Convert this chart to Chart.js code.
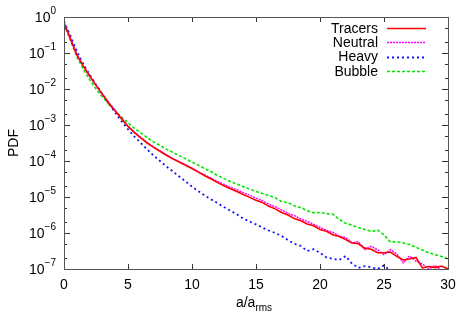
<!DOCTYPE html>
<html>
<head>
<meta charset="utf-8">
<script src="https://cdn.jsdelivr.net/npm/chart.js@4/dist/chart.umd.min.js"></script>
<style>
  html, body { margin: 0; padding: 0; background: #fff; }
  #wrap { width: 467px; height: 327px; }
</style>
</head>
<body>
<div id="wrap"><canvas id="pdf" width="467" height="327"></canvas></div>
<script>
// a / a_rms sample positions
const accel = [
  0, 0.5, 1, 1.5, 2, 2.5, 3, 3.5, 4, 4.5, 5, 5.5, 6, 6.5, 7, 7.5, 8, 8.5, 9, 9.5,
  10, 10.5, 11, 11.5, 12, 12.5, 13, 13.5, 14, 14.5, 15, 15.5, 16, 16.5, 17, 17.5, 18, 18.5, 19, 19.5,
  20, 20.5, 21, 21.5, 22, 22.5, 23, 23.5, 24, 24.5, 25, 25.5, 26, 26.5, 27, 27.5, 28, 28.5, 29, 29.5, 30
];

// log10(PDF)
const tracersLog = [
  -0.17, -0.60, -1.05, -1.36, -1.64, -1.90, -2.15, -2.39, -2.61, -2.83, -3.04, -3.21, -3.36, -3.50, -3.62, -3.73, -3.84, -3.94, -4.03, -4.12,
  -4.21, -4.31, -4.41, -4.50, -4.60, -4.69, -4.77, -4.85, -4.93, -5.01, -5.09, -5.15, -5.26, -5.33, -5.43, -5.50, -5.60, -5.66, -5.75, -5.80,
  -5.90, -5.95, -6.05, -6.10, -6.18, -6.28, -6.30, -6.42, -6.45, -6.55, -6.55, -6.53, -6.65, -6.75, -6.72, -6.68, -6.97, -6.93, -6.96, -6.92, -7.00
];
const neutralLog = [
  -0.16, -0.59, -1.04, -1.35, -1.63, -1.89, -2.14, -2.38, -2.60, -2.82, -3.03, -3.20, -3.35, -3.49, -3.61, -3.72, -3.83, -3.93, -4.02, -4.11,
  -4.20, -4.30, -4.39, -4.48, -4.57, -4.65, -4.73, -4.80, -4.88, -4.95, -5.03, -5.10, -5.20, -5.27, -5.36, -5.45, -5.52, -5.61, -5.68, -5.76,
  -5.84, -5.93, -5.98, -6.09, -6.12, -6.27, -6.24, -6.46, -6.37, -6.47, -6.60, -6.46, -6.58, -6.83, -6.64, -6.78, -6.86, -7.00, -6.90, -7.04, -7.02
];
const heavyLog = [
  -0.12, -0.52, -0.95, -1.30, -1.60, -1.88, -2.14, -2.40, -2.66, -2.90, -3.12, -3.32, -3.50, -3.68, -3.85, -4.00, -4.15, -4.29, -4.43, -4.57,
  -4.71, -4.84, -4.96, -5.07, -5.17, -5.28, -5.38, -5.48, -5.60, -5.68, -5.76, -5.85, -5.93, -6.00, -6.08, -6.20, -6.30, -6.36, -6.50, -6.45,
  -6.55, -6.68, -6.72, -6.75, -6.64, -6.85, -6.97, -6.92, -6.95, -7.00, -6.90, -7.05, -7.20, -7.30, -7.10, -7.40, -7.20, -7.50, -7.40, -7.60, -7.50
];
const bubbleLog = [
  -0.20, -0.65, -1.10, -1.45, -1.74, -2.00, -2.22, -2.42, -2.60, -2.78, -2.94, -3.09, -3.22, -3.35, -3.47, -3.57, -3.67, -3.76, -3.85, -3.94,
  -4.03, -4.12, -4.21, -4.30, -4.40, -4.49, -4.57, -4.64, -4.71, -4.78, -4.85, -4.90, -4.96, -5.02, -5.13, -5.16, -5.24, -5.30, -5.38, -5.44,
  -5.43, -5.46, -5.48, -5.62, -5.73, -5.78, -5.85, -5.90, -5.96, -5.92, -6.05, -6.25, -6.24, -6.28, -6.32, -6.40, -6.47, -6.55, -6.60, -6.65, -6.72
];

const seriesNames = ['Tracers', 'Neutral', 'Heavy', 'Bubble'];
const xTicks = [0, 5, 10, 15, 20, 25, 30];
const yExponents = [0, -1, -2, -3, -4, -5, -6, -7];

const styles = [
  { color: '#ff0000', width: 1.6, dash: [] },
  { color: '#ff00ff', width: 1.5, dash: [2, 1] },
  { color: '#1010ff', width: 1.8, dash: [2, 3] },
  { color: '#00e600', width: 1.6, dash: [3, 2] }
];

const toPoints = logs => logs.map((v, i) => ({ x: accel[i], y: Math.pow(10, v) }));
const allLogs = [tracersLog, neutralLog, heavyLog, bubbleLog];

const FONT = '"Liberation Sans", Arial, Helvetica, sans-serif';

const frame = {
  id: 'frame',
  afterDraw(chart) {
    const { ctx, chartArea: a, scales } = chart;
    const xs = scales.x, ys = scales.y;
    ctx.save();

    // ticks, inward on all sides
    ctx.strokeStyle = '#333';
    ctx.lineWidth = 1;
    ctx.beginPath();
    yExponents.forEach(e => {
      const y = Math.round(ys.getPixelForValue(Math.pow(10, e))) + 0.5;
      ctx.moveTo(a.left, y); ctx.lineTo(a.left + 6, y);
      ctx.moveTo(a.right, y); ctx.lineTo(a.right - 6, y);
      if (e > -7) {
        [2, 5].forEach(m => {
          const ym = Math.round(ys.getPixelForValue(m * Math.pow(10, e - 1))) + 0.5;
          ctx.moveTo(a.left, ym); ctx.lineTo(a.left + 3, ym);
          ctx.moveTo(a.right, ym); ctx.lineTo(a.right - 3, ym);
        });
      }
    });
    xTicks.forEach(t => {
      const x = Math.round(xs.getPixelForValue(t)) + 0.5;
      ctx.moveTo(x, a.bottom); ctx.lineTo(x, a.bottom - 5);
      ctx.moveTo(x, a.top); ctx.lineTo(x, a.top + 5);
    });
    ctx.stroke();

    // border
    ctx.strokeStyle = '#555';
    ctx.strokeRect(Math.round(a.left) + 0.5, Math.round(a.top) + 0.5,
      Math.round(a.right - a.left), Math.round(a.bottom - a.top));

    ctx.fillStyle = '#000';
    // y tick labels 10^n
    ctx.textBaseline = 'middle';
    yExponents.forEach(e => {
      const y = ys.getPixelForValue(Math.pow(10, e));
      const exp = String(e).replace('-', '\u2212');
      ctx.font = '10px ' + FONT;
      const ew = ctx.measureText(exp).width;
      const right = a.left - 8;
      ctx.textAlign = 'left';
      ctx.fillText(exp, right - ew, y - 6);
      ctx.font = '14px ' + FONT;
      ctx.textAlign = 'right';
      ctx.fillText('10', right - ew, y + 1);
    });

    // x tick labels
    ctx.font = '14px ' + FONT;
    ctx.textAlign = 'center';
    ctx.textBaseline = 'top';
    xTicks.forEach(t => ctx.fillText(String(t), xs.getPixelForValue(t), a.bottom + 9));

    // axis titles
    ctx.textBaseline = 'alphabetic';
    ctx.textAlign = 'left';
    const mid = (a.left + a.right) / 2;
    ctx.font = '14px ' + FONT;
    const w1 = ctx.measureText('a/a').width;
    ctx.font = '10px ' + FONT;
    const w2 = ctx.measureText('rms').width;
    const x0 = mid - (w1 + w2) / 2 - 2;
    ctx.font = '14px ' + FONT;
    ctx.fillText('a/a', x0, 307);
    ctx.font = '10px ' + FONT;
    ctx.fillText('rms', x0 + w1, 311);

    ctx.save();
    ctx.translate(18, (a.top + a.bottom) / 2);
    ctx.rotate(-Math.PI / 2);
    ctx.font = '14px ' + FONT;
    ctx.textAlign = 'center';
    ctx.fillText('PDF', 0, 0);
    ctx.restore();

    // key
    ctx.font = '14px ' + FONT;
    ctx.textAlign = 'right';
    ctx.textBaseline = 'middle';
    seriesNames.forEach((n, i) => {
      const y = 28 + i * 14.3;
      ctx.fillStyle = '#000';
      ctx.fillText(n, 378, y + 1);
      const s = styles[i];
      ctx.strokeStyle = s.color;
      ctx.lineWidth = s.width;
      ctx.setLineDash(s.dash);
      ctx.beginPath();
      ctx.moveTo(387, Math.round(y) + 0.5);
      ctx.lineTo(426, Math.round(y) + 0.5);
      ctx.stroke();
    });
    ctx.setLineDash([]);
    ctx.restore();
  }
};

new Chart(document.getElementById('pdf'), {
  type: 'line',
  data: {
    datasets: seriesNames.map((n, i) => ({
      label: n,
      data: toPoints(allLogs[i]),
      borderColor: styles[i].color,
      borderWidth: styles[i].width,
      borderDash: styles[i].dash,
      pointRadius: 0,
      tension: 0,
      fill: false
    }))
  },
  options: {
    responsive: false,
    animation: false,
    events: [],
    layout: { padding: { left: 64, right: 19, top: 17, bottom: 58 } },
    plugins: {
      legend: { display: false },
      tooltip: { enabled: false }
    },
    scales: {
      x: { type: 'linear', min: 0, max: 30, display: false },
      y: { type: 'logarithmic', min: 1e-7, max: 1, display: false }
    }
  },
  plugins: [frame]
});
</script>
</body>
</html>
